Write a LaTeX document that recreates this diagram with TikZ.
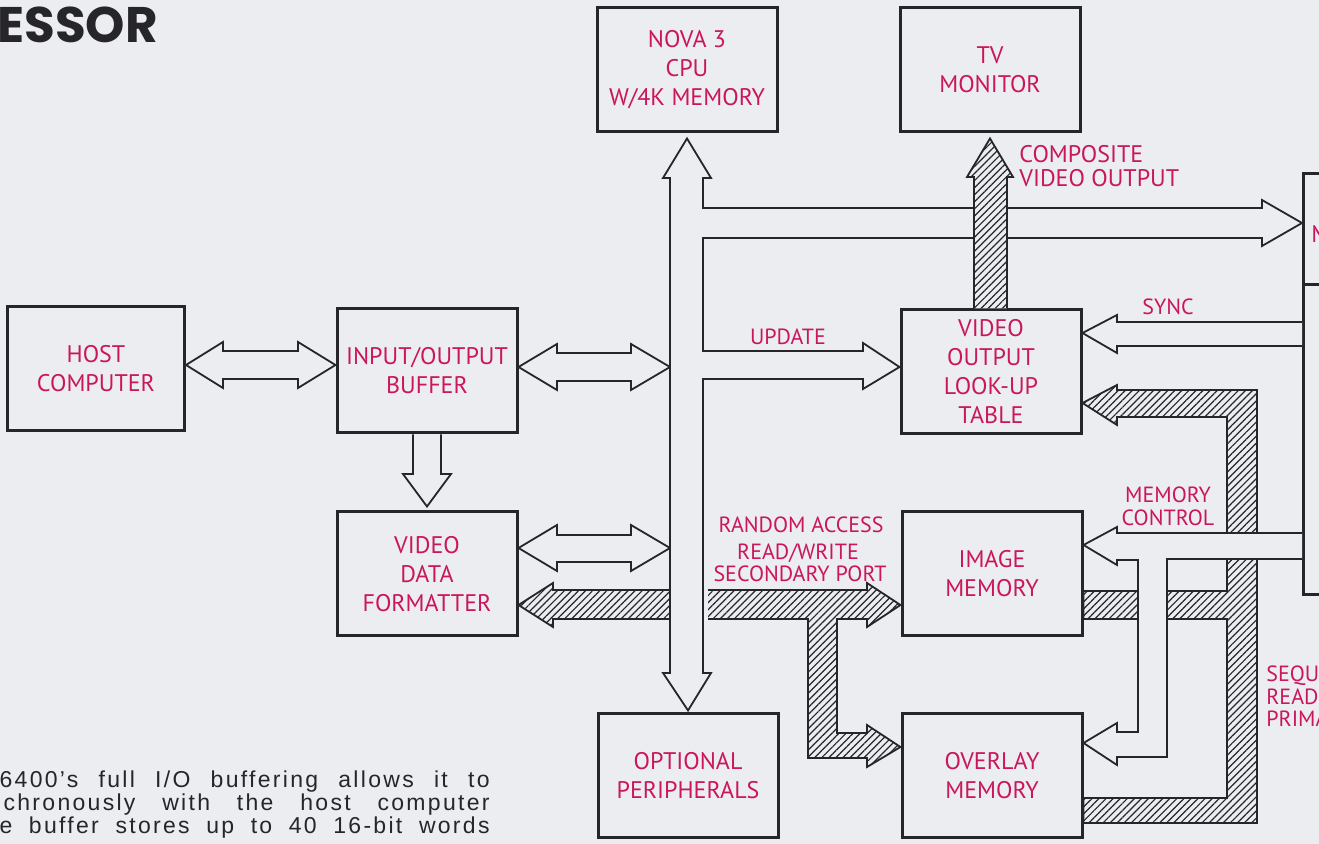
\documentclass[tikz,border=0pt]{standalone}
\usepackage{fontspec}
\setmainfont{PT Sans}
\newfontfamily\headfont{Poppins}
\newfontfamily\bodyfont[LetterSpace=10]{Liberation Sans}
\usetikzlibrary{patterns.meta}

\definecolor{paper}{RGB}{236,237,240}
\definecolor{ink}{RGB}{38,38,42}
\definecolor{pen}{RGB}{201,22,92}

\tikzset{
  blk/.style={draw=ink, line width=1.5pt, fill=paper, minimum width=90pt, minimum height=62pt,
    inner sep=0pt, align=center, text=pen, font=\fontsize{12}{14.5}\selectfont},
  side/.style={draw=ink, line width=1.5pt, anchor=north west, minimum width=60pt, inner sep=0pt},
  hollow/.style={draw=ink, line width=0.9pt, fill=paper},
  hatch/.style={draw=ink, line width=0.9pt, preaction={fill=paper},
    pattern={Lines[angle=45,distance=2.5pt,line width=0.6pt]}, pattern color=ink},
  lbl/.style={text=pen, inner sep=0pt, font=\fontsize{11}{13}\selectfont},
  copy/.style={text=ink, inner sep=0pt, anchor=base east, font=\bodyfont\fontsize{11.5}{11.5}\selectfont}
}

\begin{document}
\begin{tikzpicture}[x=0.5pt, y=-0.5pt]

\useasboundingbox (0,0) rectangle (1319,844);
\clip (0,0) rectangle (1319,844);
\fill [paper] (0,0) rectangle (1319,844);

\node [anchor=base west, inner sep=0pt, text=ink, font=\headfont\bfseries\fontsize{25}{25}\selectfont] (title) at (-3,43) {ESSOR};

\node [copy] (copya) at (490,788) {\makebox[245pt][s]{6400’s full I/O buffering allows it to}};
\node [copy] (copyb) at (490,811) {\makebox[243pt][s]{chronously with the host computer}};
\node [copy] (copyc) at (490,834) {\makebox[245pt][s]{e buffer stores up to 40 16-bit words}};

\node [blk, minimum width=88.5pt] (host) at (96,369) {HOST\\COMPUTER};
\node [blk] (io) at (427,371) {INPUT/OUTPUT\\BUFFER};
\node [blk] (vdf) at (427,574) {VIDEO\\DATA\\FORMATTER};
\node [blk] (cpu) at (687,70) {NOVA 3\\CPU\\W/4K MEMORY};
\node [blk] (tv) at (990,70) {TV\\MONITOR};
\node [blk] (lut) at (991,372) {VIDEO\\OUTPUT\\LOOK-UP\\TABLE};
\node [blk] (img) at (992,574) {IMAGE\\MEMORY};
\node [blk] (ovl) at (992,776) {OVERLAY\\MEMORY};
\node [blk] (opt) at (688,776) {OPTIONAL\\PERIPHERALS};

\node [side, minimum height=55.5pt] (dispa) at (1302,172) {};
\node [side, minimum height=155pt] (dispb) at (1302,283) {};
\node [lbl, anchor=base west, font=\fontsize{12}{12}\selectfont] (dispatxt) at (1311,243) {M};

\coordinate (busl) at (670,0);
\coordinate (busr) at (703,0);

\draw [hollow] (host.east |- 0,365) -- (223,342) -- (223,351) -- (298,351) -- (298,342) -- (io.west |- 0,365)
  -- (298,388) -- (298,379) -- (223,379) -- (223,388) -- cycle;
\draw [hollow] (io.east |- 0,367) -- (557,344) -- (557,353) -- (631,353) -- (631,344) -- (busl |- 0,367)
  -- (631,390) -- (631,381) -- (557,381) -- (557,390) -- cycle;
\draw [hollow] (vdf.east |- 0,548) -- (557,525) -- (557,535) -- (631,535) -- (631,525) -- (busl |- 0,548)
  -- (631,571) -- (631,562) -- (557,562) -- (557,571) -- cycle;
\draw [hollow] (io.south -| 413,0) -- (413,474) -- (403,474) -- ([yshift=2pt]vdf.north) -- (451,474) -- (441,474) -- (io.south -| 441,0);

\draw [hatch] (vdf.east |- 0,605) -- (553,583) -- (553,590) -- (867,590) -- (867,583) -- (img.west |- 0,605)
  -- (867,627) -- (867,619) -- (837,619) -- (837,733) -- (867,733) -- (867,725) -- (ovl.west |- 0,747)
  -- (867,767) -- (867,758) -- (808,758) -- (808,619) -- (553,619) -- (553,627) -- cycle;
\fill [paper] (busr |- 0,588) rectangle (708,621);

\draw [hollow] ([yshift=-2.5pt]cpu.south) -- (711,178) -- (busr |- 0,178) -- (busr |- 0,208) -- (1262,208) -- (1262,200)
  -- (dispa.west |- 0,223) -- (1262,246) -- (1262,238) -- (busr |- 0,238) -- (busr |- 0,351) -- (863,351) -- (863,343)
  -- (lut.west |- 0,367) -- (863,389) -- (863,379) -- (busr |- 0,379) -- (busr |- 0,673) -- (711,673)
  -- ([yshift=1pt]opt.north) -- (663,673) -- (busl |- 0,673) -- (busl |- 0,178) -- (663,178) -- cycle;

\draw [hatch] (lut.north -| 974,0) -- (974,177) -- (967,177) -- ([yshift=-2.5pt]tv.south) -- (1013,177) -- (1007,177) -- (lut.north -| 1007,0);

\draw [hatch] (lut.east |- 0,403) -- (1117,385) -- (1117,390) -- (1257,390) -- (1257,823) -- (ovl.east |- 0,823)
  -- (ovl.east |- 0,798) -- (1227,798) -- (1227,619) -- (img.east |- 0,619) -- (img.east |- 0,591) -- (1227,591)
  -- (1227,417) -- (1117,417) -- (1117,425) -- cycle;

\draw [hollow] (dispb.west |- 0,322) -- (1117,322) -- (1117,315) -- (lut.east |- 0,333) -- (1117,353) -- (1117,346) -- (dispb.west |- 0,346);

\draw [hollow] (dispb.west |- 0,533) -- (1117,533) -- (1117,527) -- (img.east |- 0,545) -- (1117,565) -- (1117,560)
  -- (1138,560) -- (1138,732) -- (1117,732) -- (1117,723) -- (ovl.east |- 0,743) -- (1117,765) -- (1117,757)
  -- (1167,757) -- (1167,559) -- (dispb.west |- 0,559);

\node [lbl, anchor=base west, font=\fontsize{12}{12}\selectfont] (compa) at (1019,163) {COMPOSITE};
\node [lbl, anchor=base west, font=\fontsize{12}{12}\selectfont] (compb) at (1019,187) {VIDEO OUTPUT};
\node [lbl, anchor=base] (upd) at (788,345) {UPDATE};
\node [lbl, anchor=base] (sync) at (1168,315) {SYNC};
\node [lbl, anchor=base] (memca) at (1168,503) {MEMORY};
\node [lbl, anchor=base] (memcb) at (1168,526) {CONTROL};
\node [lbl, anchor=base] (rnda) at (801,533) {RANDOM ACCESS};
\node [lbl, anchor=base] (rndb) at (798,560) {READ/WRITE};
\node [lbl, anchor=base] (rndc) at (800,582) {SECONDARY PORT};
\node [lbl, anchor=base west] (seqa) at (1266,682) {SEQU};
\node [lbl, anchor=base west] (seqb) at (1266,705) {READ};
\node [lbl, anchor=base west] (seqc) at (1266,727) {PRIMA};

\end{tikzpicture}
\end{document}
